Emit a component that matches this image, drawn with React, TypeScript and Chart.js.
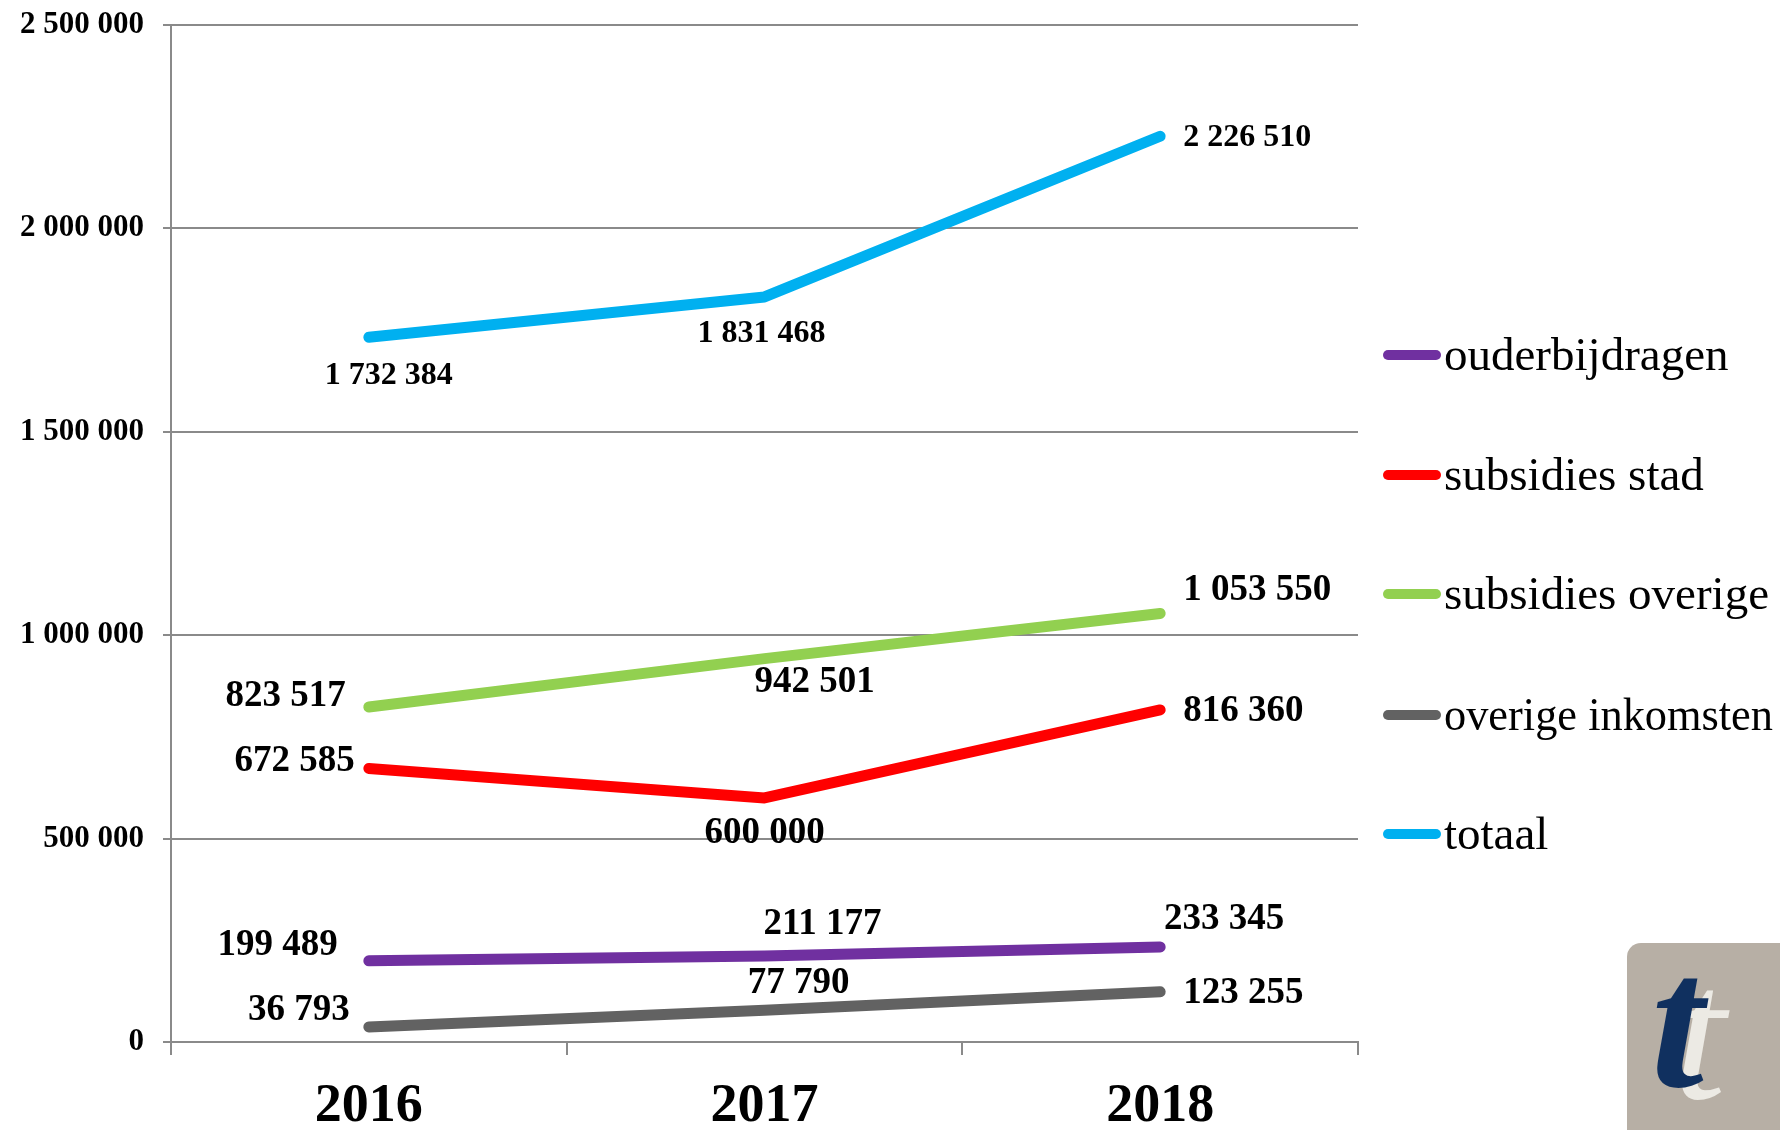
import React, { useEffect, useRef } from "react";
import { Chart, registerables } from "chart.js";

Chart.register(...registerables);

const years = ["2016", "2017", "2018"];
const seriesNames = ["ouderbijdragen", "subsidies stad", "subsidies overige", "overige inkomsten", "totaal"];
const ouderbijdragen = [199489, 211177, 233345];
const subsidiesStad = [672585, 600000, 816360];
const subsidiesOverige = [823517, 942501, 1053550];
const overigeInkomsten = [36793, 77790, 123255];
const totaal = [1732384, 1831468, 2226510];
const yTicks = [0, 500000, 1000000, 1500000, 2000000, 2500000];

const colors = ["#7030A0", "#FF0000", "#92D050", "#626262", "#00B0F0"];
// label font size per series
const labelSizes = [37, 37, 37, 37, 32];
// label placement per series/point: [dx, dy, align]
const labelPos: [number, number, CanvasTextAlign][][] = [
  [[-31, -15, "right"], [58, -32, "center"], [64, -28, "center"]],
  [[-14, -7, "right"], [0, 36, "center"], [23, 2, "left"]],
  [[-23, -11, "right"], [50, 24, "center"], [23, -23, "left"]],
  [[-19, -17, "right"], [34, -27, "center"], [23, 2, "left"]],
  [[20, 38, "center"], [-3, 37, "center"], [23, 1, "left"]],
];

const FONT = '"Liberation Serif", "Times New Roman", serif';
const fmt = (v: number) => String(v).replace(/\B(?=(\d{3})+(?!\d))/g, " ");

const labelsPlugin = {
  id: "valueLabels",
  afterDatasetsDraw(chart: any) {
    const ctx = chart.ctx;
    ctx.save();
    ctx.fillStyle = "#000";
    ctx.textBaseline = "middle";
    chart.data.datasets.forEach((ds: any, i: number) => {
      const meta = chart.getDatasetMeta(i);
      ctx.font = `bold ${labelSizes[i]}px ${FONT}`;
      meta.data.forEach((pt: any, j: number) => {
        const [dx, dy, al] = labelPos[i][j];
        ctx.textAlign = al;
        ctx.fillText(fmt(ds.data[j]), pt.x + dx, pt.y + dy);
      });
    });
    ctx.restore();
  },
};

const legendPlugin = {
  id: "sideLegend",
  afterDraw(chart: any) {
    const ctx = chart.ctx;
    ctx.save();
    const x0 = 1388;
    const x1 = 1436;
    const ys = [355, 475, 594, 715, 834];
    seriesNames.forEach((name, i) => {
      const y = ys[i];
      ctx.strokeStyle = colors[i];
      ctx.lineWidth = 10;
      ctx.lineCap = "round";
      ctx.beginPath();
      ctx.moveTo(x0, y);
      ctx.lineTo(x1, y);
      ctx.stroke();
      ctx.fillStyle = "#000";
      ctx.font = `47px ${FONT}`;
      ctx.textAlign = "left";
      ctx.textBaseline = "alphabetic";
      ctx.fillText(name, 1444, y + 15, 329);
    });
    ctx.restore();
  },
};

export default function App() {
  const ref = useRef<HTMLCanvasElement>(null);
  useEffect(() => {
    document.body.style.margin = "0";
    const seriesData = [ouderbijdragen, subsidiesStad, subsidiesOverige, overigeInkomsten, totaal];
    const chart = new Chart(ref.current!, {
      type: "line",
      data: {
        labels: years,
        datasets: seriesData.map((d, i) => ({
          label: seriesNames[i],
          data: d,
          borderColor: colors[i],
          backgroundColor: colors[i],
          borderWidth: 11,
          borderCapStyle: "round",
          borderJoinStyle: "round",
          pointRadius: 0,
          pointHoverRadius: 0,
          tension: 0,
          fill: false,
        })),
      },
      options: {
        animation: false,
        responsive: true,
        maintainAspectRatio: false,
        events: [],
        layout: { padding: { top: 25, right: 422, bottom: 0, left: 0 } },
        plugins: { legend: { display: false }, tooltip: { enabled: false } },
        scales: {
          x: {
            offset: true,
            grid: {
              offset: true,
              drawOnChartArea: false,
              drawTicks: true,
              tickLength: 13,
              color: "#8a8a8a",
              lineWidth: 2,
            },
            border: { color: "#8a8a8a", width: 2 },
            ticks: {
              color: "#000",
              font: { family: FONT, size: 54, weight: "bold" },
              padding: 20,
            },
            afterFit: (s: any) => {
              s.height = 88;
              s.paddingLeft = 0;
              s.paddingRight = 0;
            },
          },
          y: {
            min: 0,
            max: 2500000,
            afterBuildTicks: (s: any) => {
              s.ticks = yTicks.map((v) => ({ value: v }));
            },
            grid: { color: "#8a8a8a", lineWidth: 2, tickLength: 8 },
            border: { color: "#8a8a8a", width: 2 },
            ticks: {
              color: "#000",
              font: { family: FONT, size: 31, weight: "bold" },
              padding: 19,
              callback: (v: any) => fmt(Number(v)),
            },
            afterFit: (s: any) => {
              s.width = 171;
              s.paddingTop = 0;
              s.paddingBottom = 0;
            },
          },
        },
      },
      plugins: [labelsPlugin, legendPlugin],
    } as any);
    return () => chart.destroy();
  }, []);

  return (
    <div style={{ position: "fixed", left: 0, top: 0, width: 1780, height: 1130, background: "#fff", overflow: "hidden" }}>
      <canvas ref={ref} />
      <div
        style={{
          position: "absolute",
          left: 1627,
          top: 943,
          width: 153,
          height: 187,
          background: "#b7afa5",
          borderTopLeftRadius: 14,
          overflow: "hidden",
        }}
      >
        <div
          style={{
            position: "absolute",
            left: 46,
            top: -4,
            fontFamily: FONT,
            fontStyle: "italic",
            fontSize: 190,
            color: "#eceae4",
            lineHeight: 1,
          }}
        >
          t
        </div>
        <div
          style={{
            position: "absolute",
            left: 24,
            top: -16,
            fontFamily: FONT,
            fontStyle: "italic",
            fontWeight: "bold",
            fontSize: 190,
            color: "#10305f",
            lineHeight: 1,
          }}
        >
          t
        </div>
      </div>
    </div>
  );
}
